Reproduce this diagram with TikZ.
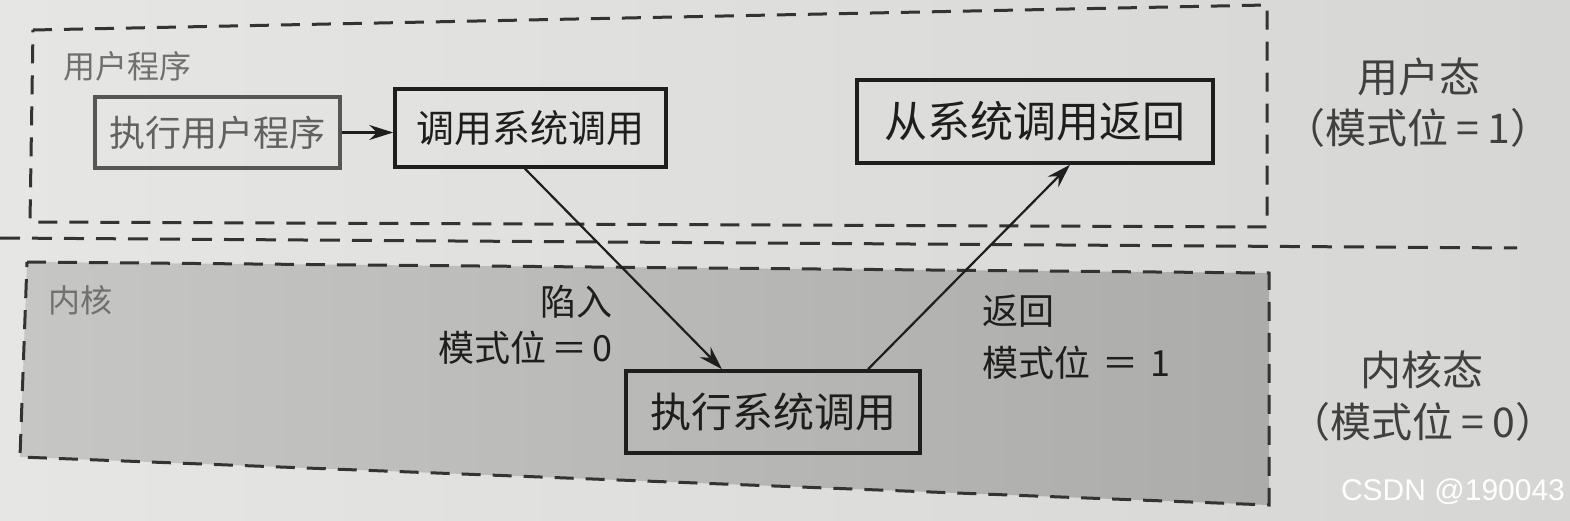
\documentclass[tikz,border=0pt]{standalone}
\usepackage{fontspec}
\newfontfamily\cjk{Noto Sans CJK SC}
\newfontfamily\wm{Liberation Sans}
\usetikzlibrary{arrows.meta,calc}
\definecolor{ink}{HTML}{1E1E1E}
\definecolor{dashc}{HTML}{333333}
\definecolor{paperL}{RGB}{230,230,228}
\definecolor{paperR}{RGB}{214,214,212}
\definecolor{kernL}{RGB}{198,198,196}
\definecolor{kernR}{RGB}{172,172,170}
\definecolor{faint}{HTML}{707070}
\tikzset{
  region/.style={draw=dashc, line width=3pt, dash pattern=on 19pt off 12pt},
  sep/.style={draw=dashc, line width=3pt, dash pattern=on 20pt off 12pt},
  procbox/.style={draw=ink, line width=3.5pt, inner sep=0pt, text=ink},
  arr/.style={draw=ink, line width=2.2pt, -{Stealth[length=24pt,width=15pt]}},
  lbl/.style={inner sep=0pt, text=ink, font={\cjk\fontsize{36}{40}\selectfont}},
  side/.style={inner sep=0pt, text=ink!85, font={\cjk\fontsize{41}{46}\selectfont}},
  area/.style={inner sep=0pt, text=faint, font={\cjk\fontsize{32}{36}\selectfont}},
}
\begin{document}
\begin{tikzpicture}[x=1pt,y=-1pt]
\useasboundingbox (0,0) rectangle (1570,521);
\shade[left color=paperL, right color=paperR] (0,0) rectangle (1570,521);

% user program region
\draw[region] (33,30) -- (1267,5) -- (1267,227) -- (30,222) -- cycle;
% separator
\draw[sep] (0,238) -- (1517,248);
% kernel region
\shade[left color=kernL, right color=kernR] (27,262) -- (1269,273) -- (1269,505) -- (20,457) -- cycle;
\draw[region] (27,262) -- (1269,273) -- (1269,505) -- (20,457) -- cycle;

\node[area] (tu) at (127,66) {用户程序};
\node[area] (tk) at (80,300) {内核};

% boxes
\node[procbox, draw=ink!75, text=ink!70, minimum width=245pt, minimum height=71pt,
      font={\cjk\fontsize{36}{40}\selectfont}] (eu) at (217.5,132.5) {执行用户程序};
\node[procbox, minimum width=271pt, minimum height=78pt,
      font={\cjk\fontsize{38}{42}\selectfont}] (cs) at (530.5,128) {调用系统调用};
\node[procbox, minimum width=356pt, minimum height=83pt,
      font={\cjk\fontsize{43}{48}\selectfont}] (rt) at (1035,121.5) {从系统调用返回};
\node[procbox, minimum width=294pt, minimum height=82pt,
      font={\cjk\fontsize{41}{46}\selectfont}] (es) at (773,412) {执行系统调用};

% arrows
\draw[arr] (eu.east) -- (cs.west |- eu.east);
\draw[arr] ([xshift=-5.5pt]cs.south) -- ([xshift=-51pt]es.north);
\draw[arr] ([xshift=95pt]es.north) -- ([xshift=35pt]rt.south);

% arrow labels
\node[lbl, anchor=east] (l1) at (613,302) {陷入};
\node[lbl, anchor=east] (l2) at (613,348) {模式位\hspace{5pt}＝\hspace{5pt}0};
\node[lbl, anchor=west] (l3) at (982,311) {返回};
\node[lbl, anchor=west] (l4) at (982,363) {模式位\hspace{12pt}＝\hspace{12pt}1};

% side labels
\node[side] (s1) at (1419,77) {用户态};
\node[side] (s2) at (1418,128) {（模式位\hspace{8pt}=\hspace{8pt}1）};
\node[side] (s3) at (1422,370) {内核态};
\node[side] (s4) at (1423,422) {（模式位\hspace{8pt}=\hspace{8pt}0）};

% watermark
\node[inner sep=0pt, text=white, font={\wm\fontsize{30}{34}\selectfont}] (w) at (1453,492) {CSDN @190043};
\end{tikzpicture}
\end{document}
